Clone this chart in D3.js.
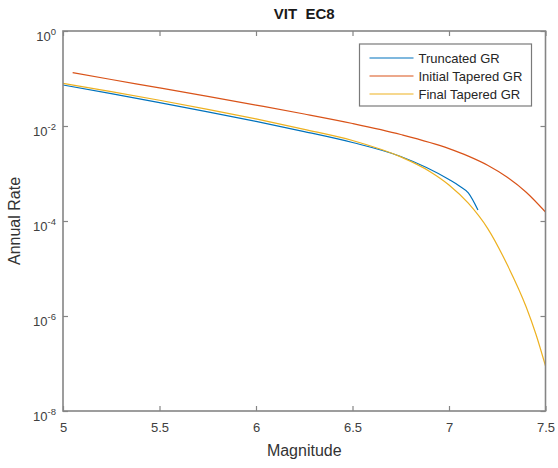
<!DOCTYPE html>
<html>
<head>
<meta charset="utf-8">
<script src="https://d3js.org/d3.v7.min.js"></script>
<style>
  body { margin: 0; background: #fff; }
  svg { display: block; font-family: "Liberation Sans", Arial, sans-serif; }
</style>
</head>
<body>
<svg id="chart" width="558" height="468"></svg>
<script>
// magnitude / annual rate values
var truncMag  = [5.0, 5.25, 5.5, 5.75, 6.0, 6.25, 6.5, 6.75, 7.0, 7.05, 7.1, 7.15];
var truncRate = [0.0730, 0.0479, 0.0311, 0.0199, 0.01247, 0.00762, 0.00449, 0.00228, 0.000747, 0.000559, 0.000389, 0.000170];

var initMag  = [5.05, 5.25, 5.5, 5.75, 6.0, 6.25, 6.5, 6.75, 7.0, 7.1, 7.2, 7.3, 7.4, 7.5];
var initRate = [0.1325, 0.0953, 0.0634, 0.0420, 0.02754, 0.01789, 0.01129, 0.00662, 0.003343, 0.002324, 0.001495, 0.000844, 0.000404, 0.0001547];

var finalMag  = [5.0, 5.25, 5.5, 5.75, 6.0, 6.25, 6.5, 6.75, 6.9, 7.0, 7.1, 7.2, 7.3, 7.4, 7.45, 7.5];
var finalRate = [0.0792, 0.0530, 0.0349, 0.02247, 0.01407, 0.00852, 0.00495, 0.002236, 0.001107, 0.000575, 0.000237, 7.0e-5, 1.243e-5, 1.547e-6, 4.18e-7, 8.86e-8];

var xTicks = [5, 5.5, 6, 6.5, 7, 7.5];
var yTickExp = [0, -2, -4, -6, -8];

var seriesNames = ["Truncated GR", "Initial Tapered GR", "Final Tapered GR"];
var colors = ["#0072BD", "#D95319", "#EDB120"];

var series = [
  d3.zip(truncMag, truncRate),
  d3.zip(initMag, initRate),
  d3.zip(finalMag, finalRate)
];

var pLeft = 63, pRight = 545.5, pTop = 31, pBottom = 411;
var svg = d3.select("#chart");

var x = d3.scaleLinear().domain([5, 7.5]).range([pLeft, pRight]);
var y = d3.scaleLog().domain([1e-8, 1]).range([pBottom, pTop]);

var axisColor = "#858585", textColor = "#404040";

// lines
svg.append("clipPath").attr("id", "clip")
  .append("rect").attr("x", pLeft).attr("y", pTop)
  .attr("width", pRight - pLeft).attr("height", pBottom - pTop);

var line = d3.line()
  .x(function(d) { return x(d[0]); })
  .y(function(d) { return y(d[1]); })
  .curve(d3.curveMonotoneX);

svg.append("g").attr("clip-path", "url(#clip)")
  .selectAll("path")
  .data(series)
  .enter()
  .append("path")
  .attr("d", line)
  .attr("fill", "none")
  .attr("stroke", function(d, i) { return colors[i]; })
  .attr("stroke-width", 1.2);

// axes (ticks inward on all four sides)
function styleAxis(g) {
  g.select(".domain").remove();
  g.selectAll(".tick line").attr("stroke", axisColor).attr("stroke-width", 1.2);
  g.selectAll(".tick text").attr("fill", textColor).attr("font-size", 13)
    .attr("font-family", "Liberation Sans, Arial, sans-serif");
}

svg.append("g").attr("transform", "translate(0," + pBottom + ")")
  .call(d3.axisBottom(x).tickValues(xTicks).tickSize(-5).tickPadding(12)
    .tickFormat(function(d) { return d; }))
  .call(styleAxis);

svg.append("g").attr("transform", "translate(0," + pTop + ")")
  .call(d3.axisTop(x).tickValues(xTicks).tickSize(-5).tickFormat(""))
  .call(styleAxis);

var yTicks = yTickExp.map(function(e) { return Math.pow(10, e); });

var yAxisG = svg.append("g").attr("transform", "translate(" + pLeft + ",0)")
  .call(d3.axisLeft(y).tickValues(yTicks).tickSize(-5).tickFormat(""))
  .call(styleAxis);

svg.append("g").attr("transform", "translate(" + pRight + ",0)")
  .call(d3.axisRight(y).tickValues(yTicks).tickSize(-5).tickFormat(""))
  .call(styleAxis);

// y tick labels as 10^n
yAxisG.selectAll(".tick").each(function(d) {
  var e = Math.round(Math.log10(d));
  var t = d3.select(this).append("text")
    .attr("x", -7).attr("y", 9.5)
    .attr("text-anchor", "end")
    .attr("fill", textColor)
    .attr("font-size", 13)
    .attr("font-family", "Liberation Sans, Arial, sans-serif");
  t.append("tspan").text("10");
  t.append("tspan").attr("dy", -6).attr("font-size", 9.5).text(e);
});

// box
svg.append("rect")
  .attr("x", pLeft).attr("y", pTop)
  .attr("width", pRight - pLeft).attr("height", pBottom - pTop)
  .attr("fill", "none").attr("stroke", axisColor).attr("stroke-width", 1.6);

// labels
svg.append("text")
  .attr("x", (pLeft + pRight) / 2).attr("y", 19)
  .attr("text-anchor", "middle")
  .attr("font-size", 15).attr("font-weight", "bold")
  .attr("fill", "#1a1a1a")
  .style("white-space", "pre")
  .text("VIT  EC8");

svg.append("text")
  .attr("x", (pLeft + pRight) / 2).attr("y", 456)
  .attr("text-anchor", "middle")
  .attr("font-size", 16).attr("fill", "#333")
  .text("Magnitude");

svg.append("text")
  .attr("transform", "translate(20," + ((pTop + pBottom) / 2) + ") rotate(-90)")
  .attr("text-anchor", "middle")
  .attr("font-size", 16).attr("fill", "#333")
  .text("Annual Rate");

// legend
var lg = svg.append("g").attr("transform", "translate(359.5,44)");
lg.append("rect")
  .attr("width", 172).attr("height", 62)
  .attr("fill", "#fff").attr("stroke", "#7a7a7a").attr("stroke-width", 1.2);

var rows = lg.selectAll("g.row")
  .data(seriesNames)
  .enter()
  .append("g")
  .attr("class", "row")
  .attr("transform", function(d, i) { return "translate(0," + (14 + i * 18) + ")"; });

rows.append("line")
  .attr("x1", 10).attr("x2", 54)
  .attr("stroke", function(d, i) { return colors[i]; })
  .attr("stroke-width", 1.2);

rows.append("text")
  .attr("x", 59).attr("y", 4.5)
  .attr("font-size", 13).attr("fill", "#262626")
  .text(function(d) { return d; });
</script>
</body>
</html>
